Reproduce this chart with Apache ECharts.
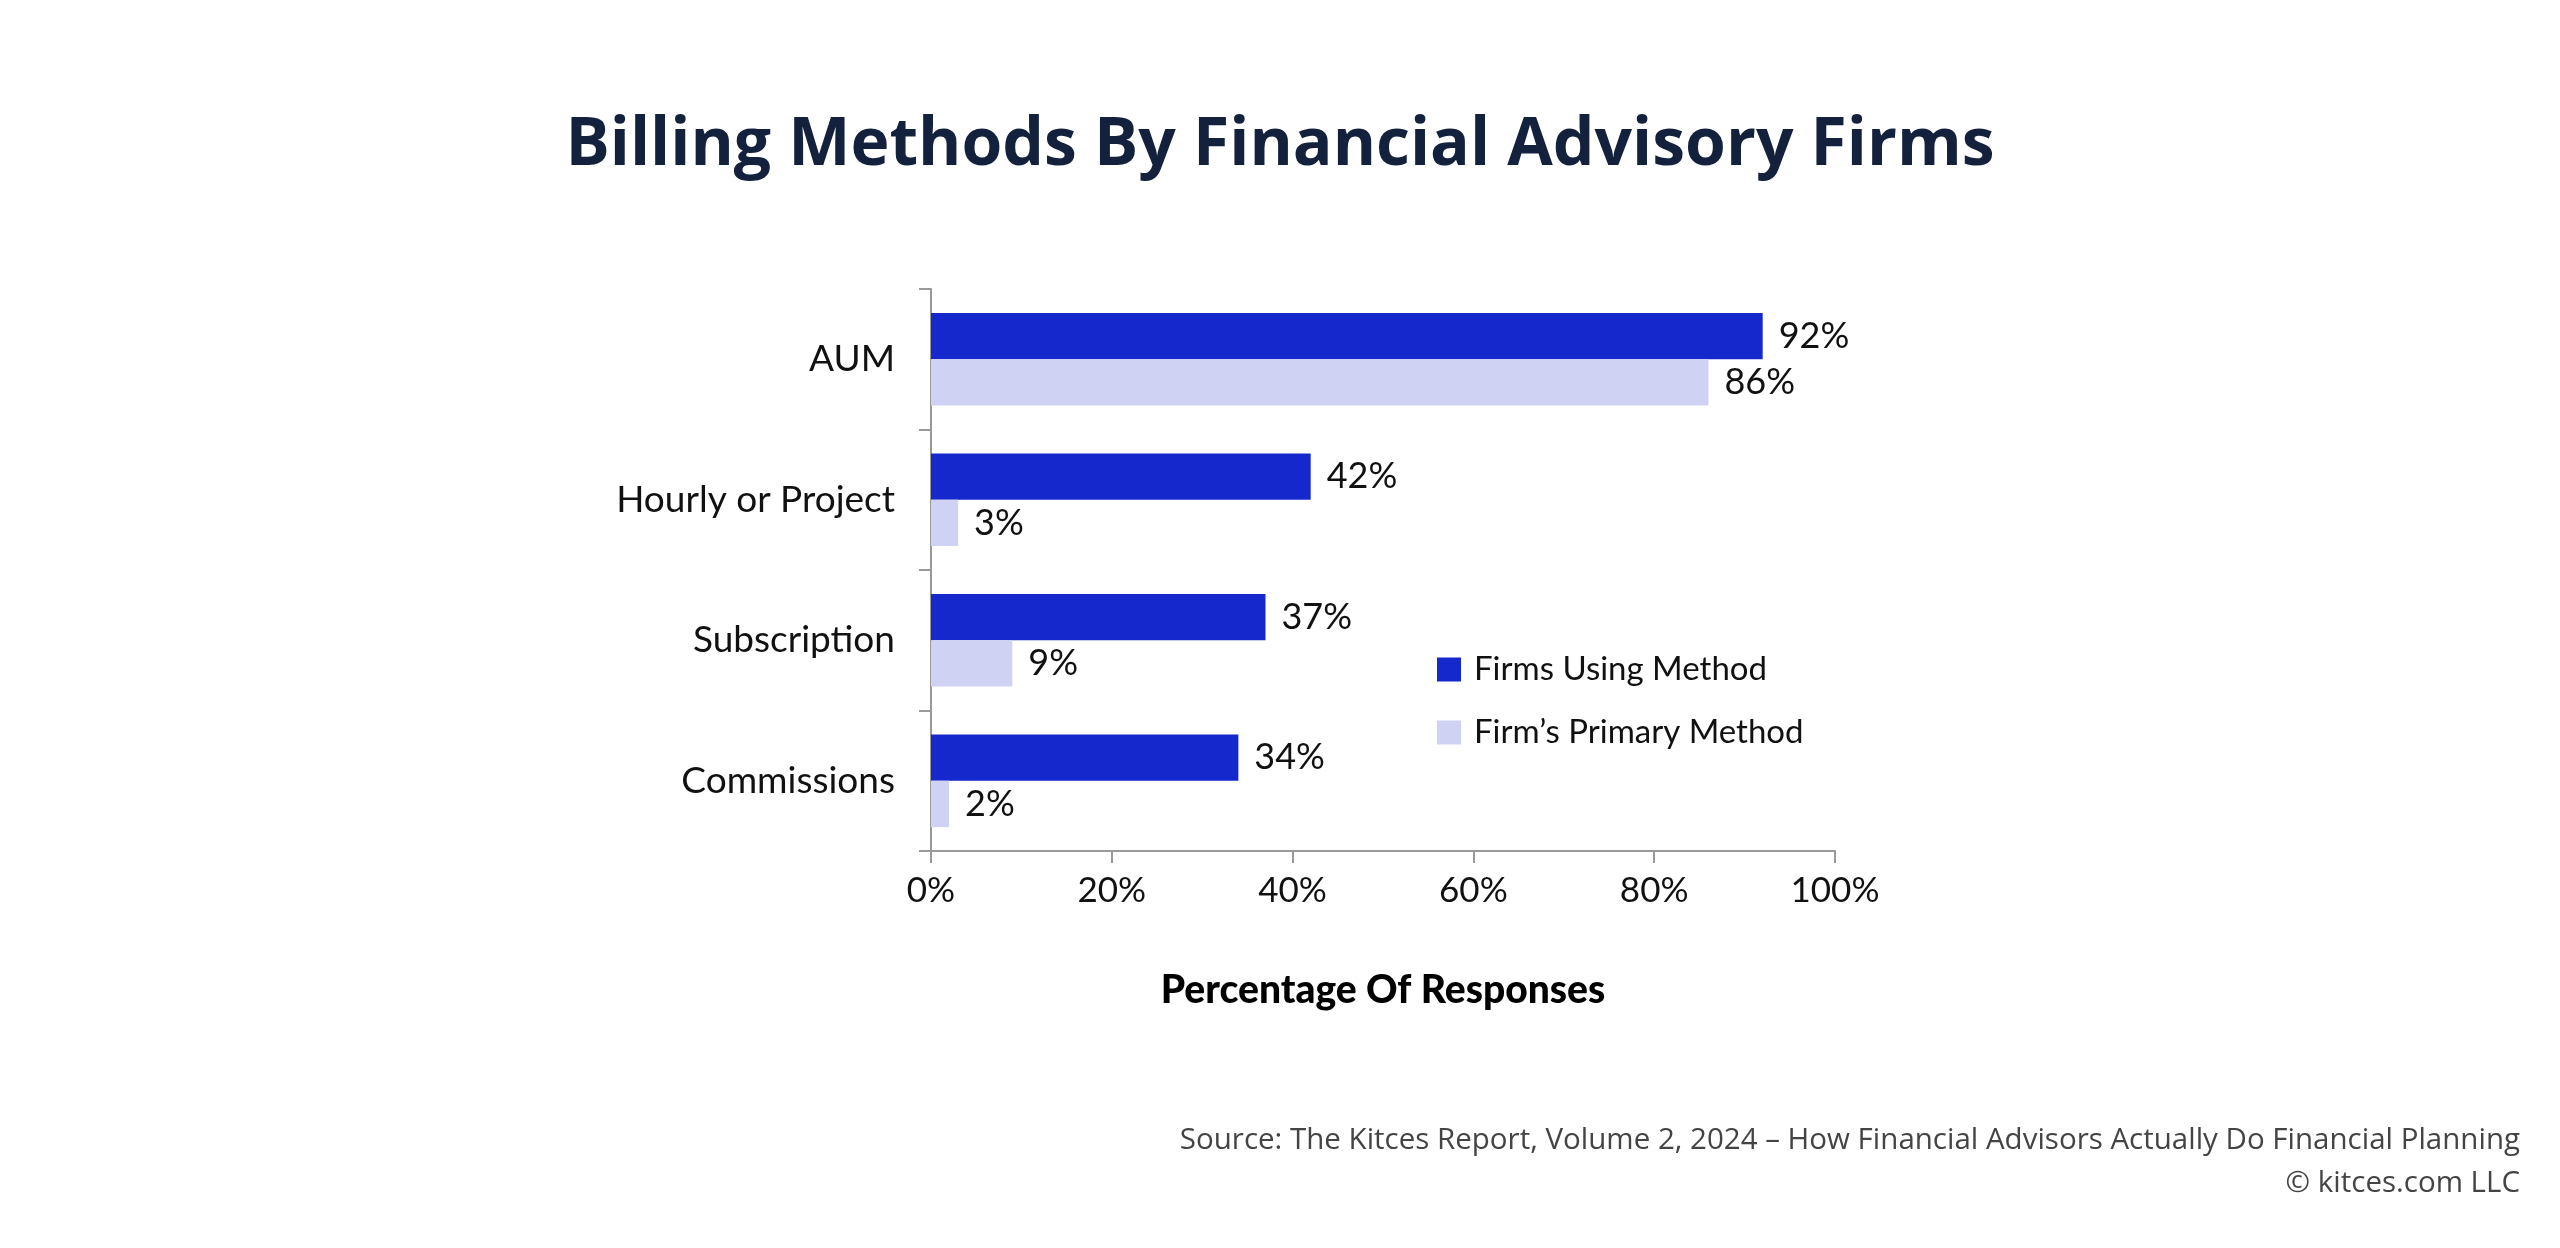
<!DOCTYPE html>
<html><head><meta charset="utf-8">
<script src="https://cdn.jsdelivr.net/npm/echarts@6/dist/echarts.min.js"></script>
<style>html,body{margin:0;background:#fff}#c{width:2560px;height:1248px}</style>
</head><body><div id="c"></div>
<script>
const categories = ['AUM', 'Hourly or Project', 'Subscription', 'Commissions'];
const usingMethod = [92, 42, 37, 34];
const primaryMethod = [86, 3, 9, 2];
const xTicks = [0, 20, 40, 60, 80, 100];
const seriesNames = ['Firms Using Method', 'Firm’s Primary Method'];
const sourceLines = ['Source: The Kitces Report, Volume 2, 2024 – How Financial Advisors Actually Do Financial Planning', '© kitces.com LLC'];

const chart = echarts.init(document.getElementById('c'));
const font = 'Lato, "Open Sans", sans-serif';
chart.setOption({
  backgroundColor: '#fff',
  animation: false,
  title: {text: 'Billing Methods By Financial Advisory Firms', left: 'center', top: 108,
     textStyle: {fontFamily: '"Open Sans"', fontWeight: 'bold', fontSize: 66, color: '#14213d'}},
  graphic: sourceLines.map((t, i) => ({
    type: 'text', right: 40, top: 1126 + i * 43,
    style: {text: t, fontFamily: '"Open Sans"', fontSize: 29.5, fill: '#444'}
  })),
  legend: {
    orient: 'vertical', left: 1432, top: 648, itemGap: 30, itemWidth: 24, itemHeight: 24,
    icon: 'rect',
    textStyle: {fontFamily: font, fontSize: 33, color: '#111', padding: [0, 0, 0, 8]},
    data: seriesNames
  },
  grid: {left: 931, right: 725, top: 289, bottom: 397},
  xAxis: {
    type: 'value', min: 0, max: 100, interval: 20,
    axisLine: {show: true, lineStyle: {color: '#999', width: 2}},
    axisTick: {show: true, length: 12, lineStyle: {color: '#999', width: 2}},
    splitLine: {show: false},
    axisLabel: {fontFamily: font, fontSize: 35, color: '#111', margin: 22,
      formatter: v => xTicks.includes(v) ? v + '%' : ''},
    name: 'Percentage Of Responses', nameLocation: 'middle', nameGap: 120,
    nameTextStyle: {fontFamily: font, fontWeight: 900, fontSize: 39, color: '#000'}
  },
  yAxis: {
    type: 'category', inverse: true, data: categories,
    axisLine: {show: true, lineStyle: {color: '#999', width: 2}},
    axisTick: {show: true, length: 12, lineStyle: {color: '#999', width: 2}},
    axisLabel: {fontFamily: font, fontSize: 37, color: '#111', margin: 36}
  },
  series: [
    {name: seriesNames[0], type: 'bar', data: usingMethod, barGap: '0%', barCategoryGap: '34%',
     itemStyle: {color: '#1428cc'},
     label: {show: true, position: 'right', distance: 16, formatter: '{c}%', fontFamily: font, fontSize: 36, color: '#111'}},
    {name: seriesNames[1], type: 'bar', data: primaryMethod,
     itemStyle: {color: '#d0d2f4'},
     label: {show: true, position: 'right', distance: 16, formatter: '{c}%', fontFamily: font, fontSize: 36, color: '#111'}}
  ]
});
</script></body></html>
